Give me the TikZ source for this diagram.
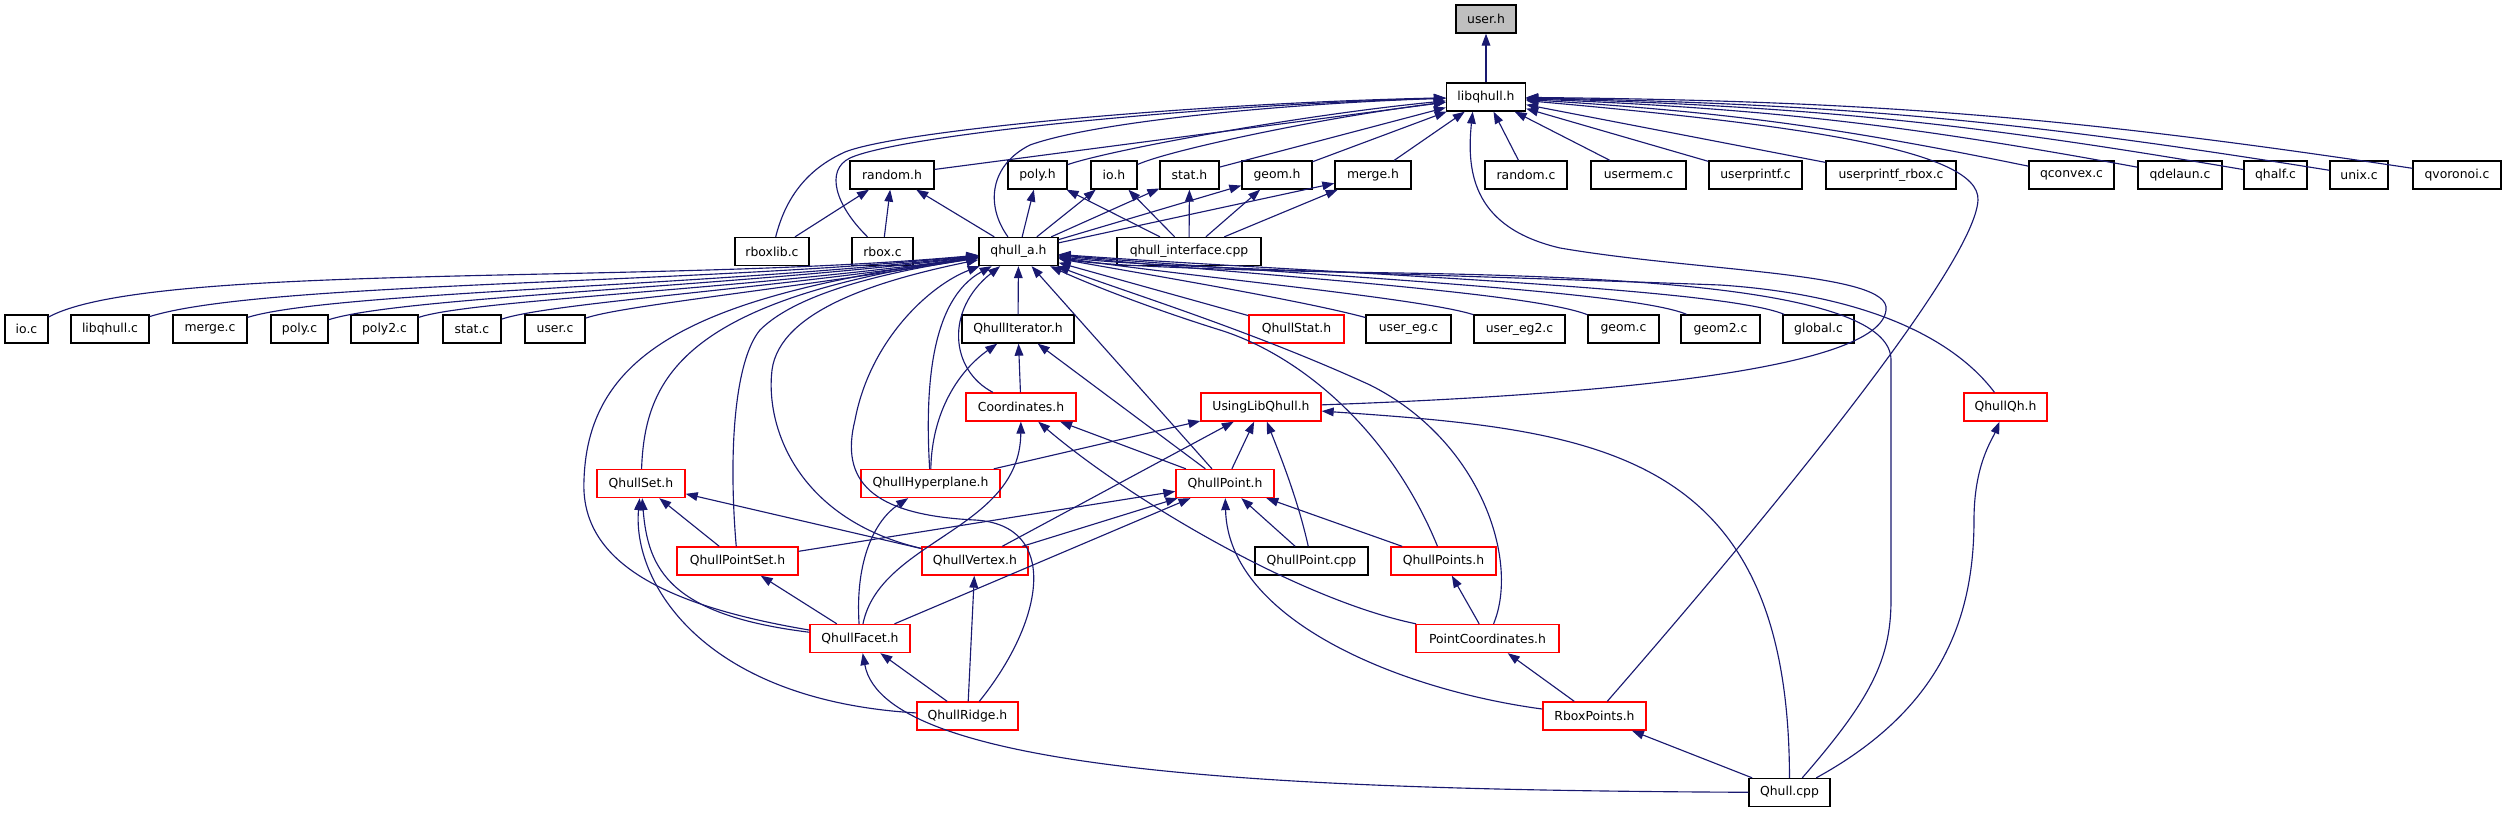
\documentclass[tikz,border=0pt]{standalone}
\usepackage{fontspec}
\setmainfont{DejaVu Sans}
\usetikzlibrary{arrows.meta}
\definecolor{edgeblue}{HTML}{191970}
\definecolor{hdrred}{HTML}{FF0000}
\definecolor{curgray}{HTML}{BFBFBF}
\tikzset{box/.style = {draw=black, line width=1pt, fill=white, inner sep=0,
                       minimum height=21pt, font=\fontsize{9.3}{11}\selectfont}}
\tikzset{redbox/.style = {box, draw=hdrred}}
\tikzset{curbox/.style = {box, fill=curgray}}
\tikzset{bw/.style = {minimum width=#1*0.75pt}}
\tikzset{inc/.style = {draw=edgeblue, line width=0.85pt,
                       -{Triangle[length=9pt,width=6.5pt]}}}

\begin{document}
\begin{tikzpicture}[x=0.75pt, y=-0.75pt]
  \useasboundingbox (0,0) rectangle (2507,813);
  \node [curbox, bw=60] (userh) at (1486,19) {user.h};
  \node [box, bw=79] (libqhullh) at (1486,97) {libqhull.h};
  % headers and sources under libqhull.h
  \node [box, bw=84] (randomh) at (892,175) {random.h};
  \node [box, bw=59] (polyh) at (1037.5,175) {poly.h};
  \node [box, bw=46] (ioh) at (1114,175) {io.h};
  \node [box, bw=59] (stath) at (1189.5,175) {stat.h};
  \node [box, bw=70] (geomh) at (1277,175) {geom.h};
  \node [box, bw=76] (mergeh) at (1373,175) {merge.h};
  \node [box, bw=82] (randomc) at (1526,175) {random.c};
  \node [box, bw=95] (usermemc) at (1638.5,175) {usermem.c};
  \node [box, bw=93] (userprintfc) at (1755.5,175) {userprintf.c};
  \node [box, bw=130] (userprintfrboxc) at (1891,175) {userprintf\_rbox.c};
  \node [box, bw=85] (qconvexc) at (2071.5,175) {qconvex.c};
  \node [box, bw=84] (qdelaunc) at (2180,175) {qdelaun.c};
  \node [box, bw=63] (qhalfc) at (2275.5,175) {qhalf.c};
  \node [box, bw=58] (unixc) at (2359,175) {unix.c};
  \node [box, bw=88] (qvoronoic) at (2457,175) {qvoronoi.c};
  \node [box, bw=74] (rboxlibc) at (772,251.5) {rboxlib.c};
  \node [box, bw=61] (rboxc) at (882.5,251.5) {rbox.c};
  \node [box, bw=79] (qhullah) at (1018.5,251.5) {qhull\_a.h};
  \node [box, bw=144] (qhullintf) at (1189,251.5) {qhull\_interface.cpp};
  % row under qhull_a.h
  \node [box, bw=43] (ioc) at (26.5,329) {io.c};
  \node [box, bw=78] (libqhullc) at (110,329) {libqhull.c};
  \node [box, bw=74] (mergec) at (210,329) {merge.c};
  \node [box, bw=57] (polyc) at (299.5,329) {poly.c};
  \node [box, bw=67] (poly2c) at (384.5,329) {poly2.c};
  \node [box, bw=58] (statc) at (472,329) {stat.c};
  \node [box, bw=60] (userc) at (555,329) {user.c};
  \node [box, bw=112] (iterh) at (1018,329) {QhullIterator.h};
  \node [redbox, bw=95] (qstath) at (1296.5,329) {QhullStat.h};
  \node [box, bw=85] (useregc) at (1408.5,329) {user\_eg.c};
  \node [box, bw=91] (usereg2c) at (1519.5,329) {user\_eg2.c};
  \node [box, bw=71] (geomc) at (1623.5,329) {geom.c};
  \node [box, bw=79] (geom2c) at (1720.5,329) {geom2.c};
  \node [box, bw=71] (globalc) at (1818.5,329) {global.c};
  % C++ headers
  \node [redbox, bw=110] (coordh) at (1021,407) {Coordinates.h};
  \node [redbox, bw=120] (usinglibh) at (1261,407) {UsingLibQhull.h};
  \node [redbox, bw=83] (qhullqh) at (2005.5,407) {QhullQh.h};
  \node [redbox, bw=88] (qseth) at (641,483.5) {QhullSet.h};
  \node [redbox, bw=139] (qhyperh) at (930.5,483.5) {QhullHyperplane.h};
  \node [redbox, bw=98] (qpointh) at (1225,483.5) {QhullPoint.h};
  \node [redbox, bw=121] (qpointseth) at (737.5,561) {QhullPointSet.h};
  \node [redbox, bw=106] (qvertexh) at (975,561) {QhullVertex.h};
  \node [box, bw=113] (qpointcpp) at (1311.5,561) {QhullPoint.cpp};
  \node [redbox, bw=105] (qpointsh) at (1443.5,561) {QhullPoints.h};
  \node [redbox, bw=100] (qfaceth) at (860,638.5) {QhullFacet.h};
  \node [redbox, bw=143] (pointcoordh) at (1487.5,638.5) {PointCoordinates.h};
  \node [redbox, bw=101] (qridgeh) at (967.5,716) {QhullRidge.h};
  \node [redbox, bw=103] (rboxptsh) at (1594.5,716) {RboxPoints.h};
  \node [box, bw=81] (qhullcpp) at (1789.5,792.5) {Qhull.cpp};

  % includes of libqhull.h
  \draw [inc] (libqhullh) -- (userh);
  \foreach \n in {randomh, stath, geomh, mergeh, randomc, usermemc, userprintfc, userprintfrboxc}
    \draw [inc] (\n) -- (libqhullh);
  \foreach \n in {qconvexc, qdelaunc, qhalfc, unixc, qvoronoic}
    \draw [inc] (\n) to [bend right=4] (libqhullh);
  \draw [inc] (polyh) .. controls (1110,150) and (1300,115) .. (libqhullh);
  \draw [inc] (ioh) .. controls (1170,150) and (1320,118) .. (libqhullh);
  \draw [inc] (rboxlibc) .. controls (785,200) and (805,170) .. (845,152)
              .. controls (900,130) and (1200,103) .. (libqhullh);
  \draw [inc] (rboxc) .. controls (835,205) and (825,170) .. (850,158)
              .. controls (900,135) and (1200,105) .. (libqhullh);
  \draw [inc] (qhullah) .. controls (985,205) and (990,165) .. (1030,145)
              .. controls (1100,120) and (1300,103) .. (libqhullh);
  \draw [inc] (usinglibh) .. controls (1600,395) and (1880,370) .. (1886,310)
              .. controls (1892,272) and (1700,272) .. (1560,248)
              .. controls (1475,228) and (1466,175) .. ([xshift=-10pt]libqhullh.south);
  \draw [inc] (rboxptsh) .. controls (1800,480) and (1975,260) .. (1978,200)
              .. controls (1980,150) and (1800,125) .. (libqhullh);

  % second row headers
  \foreach \n in {rboxlibc, rboxc, qhullah}
    \draw [inc] (\n) -- (randomh);
  \foreach \h in {polyh, ioh, stath, geomh, mergeh} {
    \draw [inc] (qhullah) -- (\h);
    \draw [inc] (qhullintf) -- (\h);
  }

  % includes of qhull_a.h
  \draw [inc] (ioc) .. controls (150,262) and (650,285) .. (qhullah);
  \draw [inc] (libqhullc) .. controls (260,282) and (680,285) .. (qhullah);
  \draw [inc] (mergec) .. controls (330,292) and (700,287) .. (qhullah);
  \draw [inc] (polyc) .. controls (400,297) and (720,288) .. (qhullah);
  \draw [inc] (poly2c) .. controls (470,300) and (740,290) .. (qhullah);
  \draw [inc] (statc) .. controls (550,303) and (760,290) .. (qhullah);
  \draw [inc] (userc) .. controls (620,306) and (780,290) .. (qhullah);
  \draw [inc] (iterh) -- (qhullah);
  \draw [inc] (qstath) -- (qhullah);
  \draw [inc] (useregc) .. controls (1300,300) and (1150,275) .. (qhullah);
  \draw [inc] (usereg2c) .. controls (1420,298) and (1200,278) .. (qhullah);
  \draw [inc] (geomc) .. controls (1530,292) and (1250,275) .. (qhullah);
  \draw [inc] (geom2c) .. controls (1630,290) and (1280,274) .. (qhullah);
  \draw [inc] (globalc) .. controls (1720,287) and (1300,272) .. (qhullah);
  \draw [inc] (qhullqh) .. controls (1955,340) and (1870,295) .. (1720,285)
              .. controls (1450,275) and (1150,268) .. (qhullah);
  \draw [inc] (qhullcpp) .. controls (1870,700) and (1891,660) .. (1891,600)
              -- (1891,360) .. controls (1891,292) and (1650,277) .. (1400,273)
              .. controls (1200,270) and (1100,265) .. (qhullah);
  \draw [inc] (qseth) .. controls (645,380) and (680,300) .. (qhullah);
  \draw [inc] (qfaceth) .. controls (660,605) and (580,560) .. (584,480)
              .. controls (588,350) and (700,295) .. (qhullah);
  \draw [inc] (qpointseth) .. controls (728,450) and (735,360) .. (760,330)
              .. controls (800,290) and (900,270) .. (qhullah);
  \draw [inc] (qvertexh) .. controls (800,520) and (765,430) .. (772,370)
              .. controls (780,310) and (880,280) .. (qhullah);
  \draw [inc] (qridgeh) .. controls (1045,620) and (1060,525) .. (975,520)
              .. controls (870,515) and (840,480) .. (855,420)
              .. controls (870,340) and (930,285) .. (qhullah);
  \draw [inc] (qhyperh) .. controls (925,390) and (930,300) .. (qhullah);
  \draw [inc] (coordh) .. controls (950,370) and (945,310) .. (qhullah);
  \draw [inc] (qpointh) -- (qhullah);
  \draw [inc] (qpointsh) .. controls (1390,430) and (1300,355) .. (1220,330)
              .. controls (1140,305) and (1080,280) .. (qhullah);
  \draw [inc] (pointcoordh) .. controls (1520,560) and (1480,440) .. (1370,385)
              .. controls (1250,330) and (1120,290) .. (qhullah);

  % C++ headers among themselves
  \draw [inc] (coordh) -- (iterh);
  \draw [inc] (qpointh) -- (iterh);
  \draw [inc] (qhyperh) .. controls (932,410) and (960,370) .. (iterh);
  \draw [inc] (qpointh) -- (coordh);
  \draw [inc] (qfaceth) .. controls (880,540) and (1020,530) .. (coordh);
  \draw [inc] (pointcoordh) .. controls (1300,600) and (1130,500) .. (coordh);
  \foreach \n in {qhyperh, qvertexh, qpointh}
    \draw [inc] (\n) -- (usinglibh);
  \draw [inc] (qpointcpp) .. controls (1298,500) and (1280,455) .. (usinglibh);
  \draw [inc] (qhullcpp) .. controls (1789,450) and (1600,430) .. (usinglibh);
  \draw [inc] (qpointseth) -- (qseth);
  \draw [inc] (qvertexh) -- (qseth);
  \draw [inc] (qfaceth) .. controls (670,615) and (648,570) .. (qseth);
  \draw [inc] (qridgeh) .. controls (700,700) and (632,580) .. (qseth);
  \foreach \n in {qpointseth, qvertexh, qfaceth, qpointcpp, qpointsh}
    \draw [inc] (\n) -- (qpointh);
  \draw [inc] (rboxptsh) .. controls (1400,690) and (1228,620) .. (qpointh);
  \draw [inc] (qfaceth) .. controls (855,560) and (875,520) .. (qhyperh);
  \draw [inc] (qfaceth) -- (qpointseth);
  \draw [inc] (qridgeh) -- (qvertexh);
  \draw [inc] (qridgeh) -- (qfaceth);
  \draw [inc] (qhullcpp) .. controls (1300,790) and (885,775) .. (qfaceth);
  \draw [inc] (pointcoordh) -- (qpointsh);
  \draw [inc] (rboxptsh) -- (pointcoordh);
  \draw [inc] (qhullcpp) -- (rboxptsh);
  \draw [inc] (qhullcpp) .. controls (1940,710) and (1974,620) .. (1974,520)
              .. controls (1974,465) and (1992,440) .. (qhullqh);
\end{tikzpicture}
\end{document}
